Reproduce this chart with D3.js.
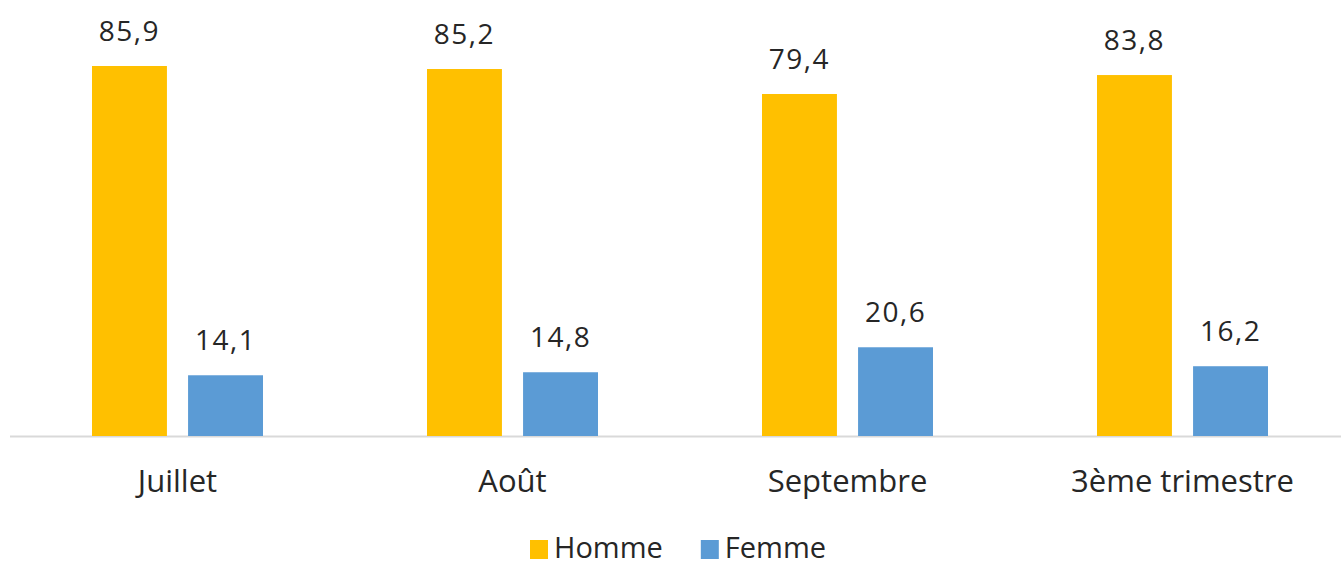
<!DOCTYPE html>
<html>
<head>
<meta charset="utf-8">
<script src="https://cdn.jsdelivr.net/npm/d3@7"></script>
<style>
  body { margin: 0; background: #fff; }
  svg text { font-family: "Open Sans", "Noto Sans", sans-serif; fill: #262626; }
</style>
</head>
<body>
<svg id="chart" width="1341" height="568"></svg>
<script>
// Data
const categories = ['Juillet', 'Août', 'Septembre', '3ème trimestre'];
const seriesNames = ['Homme', 'Femme'];
const homme = [85.9, 85.2, 79.4, 83.8];
const femme = [14.1, 14.8, 20.6, 16.2];

const colours = d3.scaleOrdinal().domain(seriesNames).range(['#FFC000', '#5B9BD5']);

const svg = d3.select('#chart');
const baseline = 436;

// Scales
const x = d3.scaleBand()
    .domain(categories)
    .range([10, 1350]);

const inner = d3.scaleBand()
    .domain(seriesNames)
    .range([x.bandwidth() / 2 - 85.5, x.bandwidth() / 2 + 85.5])
    .paddingInner(0.22);

const y = d3.scaleLinear()
    .domain([0, 85.9])
    .range([baseline, 66]);

const fmt = (v) => d3.format('.1f')(v).replace('.', ',');

const rows = categories.map((c, i) => ({
    category: c,
    values: [
        { name: 'Homme', value: homme[i] },
        { name: 'Femme', value: femme[i] },
    ],
}));

// Axis line
const xAxis = d3.axisBottom(x).tickSize(0).tickPadding(34);
const axisG = svg.append('g')
    .attr('transform', `translate(0, ${baseline})`)
    .call(xAxis);
axisG.select('.domain').attr('d', 'M10,0.5H1341').attr('stroke', '#D9D9D9').attr('stroke-width', 2);
axisG.selectAll('.tick text')
    .style('font-size', '31px')
    .attr('fill', '#262626');

// Bars
const groups = svg.append('g')
    .selectAll('g.cat')
    .data(rows)
    .join('g')
    .attr('class', 'cat')
    .attr('transform', (d) => `translate(${x(d.category)}, 0)`);

groups.selectAll('rect')
    .data((d) => d.values)
    .join('rect')
    .attr('x', (d) => inner(d.name))
    .attr('width', inner.bandwidth())
    .attr('y', (d) => y(d.value))
    .attr('height', (d) => baseline - y(d.value))
    .attr('fill', (d) => colours(d.name));

groups.selectAll('text.value')
    .data((d) => d.values)
    .join('text')
    .attr('class', 'value')
    .attr('x', (d) => inner(d.name) + inner.bandwidth() / 2)
    .attr('y', (d) => y(d.value) - 25)
    .attr('text-anchor', 'middle')
    .style('font-size', '28px')
    .style('letter-spacing', '1.5px')
    .text((d) => fmt(d.value));

// Legend
const legend = svg.append('g').attr('class', 'legend');
const items = legend.selectAll('g.legend-item')
    .data(seriesNames)
    .join('g')
    .attr('class', 'legend-item');

items.append('rect')
    .attr('x', 0)
    .attr('y', -18)
    .attr('width', 18)
    .attr('height', 19)
    .attr('fill', (d) => colours(d));

items.append('text')
    .attr('x', 24)
    .attr('y', 0)
    .style('font-size', '29px')
    .text((d) => d);

let offset = 0;
items.each(function () {
    const g = d3.select(this);
    g.attr('transform', `translate(${offset}, 0)`);
    offset += this.getBBox().width + 38;
});
legend.attr('transform', `translate(530, 558)`);
</script>
</body>
</html>
